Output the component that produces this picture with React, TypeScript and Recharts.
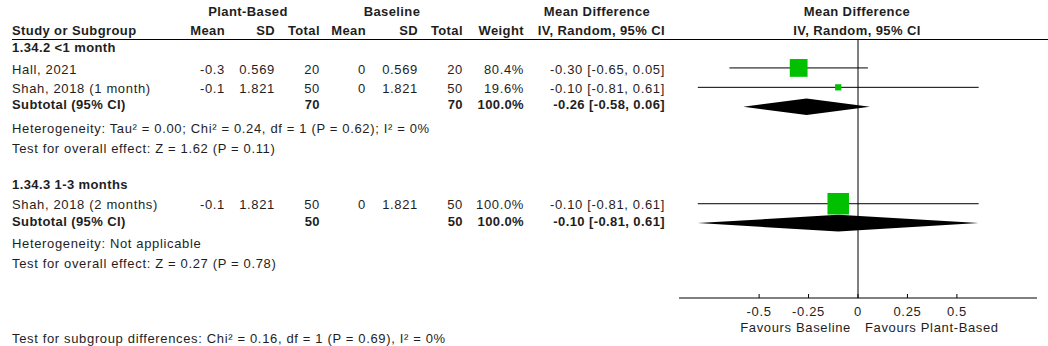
import React from "react";
import { ComposedChart, Scatter, ErrorBar, Area, XAxis, YAxis, ReferenceLine } from "recharts";

// ---------- data ----------
const studyNames = ["Hall, 2021", "Shah, 2018 (1 month)", "Shah, 2018 (2 months)"];
const studyRows = [1, 2, 8];
const pbMean = [-0.3, -0.1, -0.1];
const pbSD = [0.569, 1.821, 1.821];
const pbTotal = [20, 50, 50];
const blMean = [0, 0, 0];
const blSD = [0.569, 1.821, 1.821];
const blTotal = [20, 50, 50];
const weights = [80.4, 19.6, 100.0];
const md = [-0.3, -0.1, -0.1];
const ciLow = [-0.65, -0.81, -0.81];
const ciHigh = [0.05, 0.61, 0.61];

const subgroupNames = ["1.34.2 <1 month", "1.34.3 1-3 months"];
const subRows = [3, 9];
const subPbTotal = [70, 50];
const subBlTotal = [70, 50];
const subWeight = [100.0, 100.0];
const subMd = [-0.26, -0.1];
const subLow = [-0.58, -0.81];
const subHigh = [0.06, 0.61];
const heterogeneity = [
  "Heterogeneity: Tau² = 0.00; Chi² = 0.24, df = 1 (P = 0.62); I² = 0%",
  "Heterogeneity: Not applicable",
];
const overallEffect = [
  "Test for overall effect: Z = 1.62 (P = 0.11)",
  "Test for overall effect: Z = 0.27 (P = 0.78)",
];
const subgroupDiff = "Test for subgroup differences: Chi² = 0.16, df = 1 (P = 0.69), I² = 0%";

const xTicks = [-0.5, -0.25, 0, 0.25, 0.5];
const xTickLabels = ["-0.5", "-0.25", "0", "0.25", "0.5"];
const favoursLeft = "Favours Baseline";
const favoursRight = "Favours Plant-Based";

// ---------- derived ----------
const studyPoints = studyNames.map((n, i) => ({
  x: md[i],
  y: studyRows[i],
  err: [md[i] - ciLow[i], ciHigh[i] - md[i]],
  w: weights[i],
}));
const DIAMOND_HALF = 0.43;
const diamondData = (i: number) => [
  { x: subLow[i], band: [subRows[i], subRows[i]] },
  { x: subMd[i], band: [subRows[i] - DIAMOND_HALF, subRows[i] + DIAMOND_HALF] },
  { x: subHigh[i], band: [subRows[i], subRows[i]] },
];

const FONT = "'Liberation Sans', Arial, sans-serif";
const FS = 13;
const LS_BOLD = 0.4;
const LS_REG = 0.65;
const TXT = "#1e1e1e";

const SquareShape = (props: any) => {
  const { cx, cy, payload } = props;
  const s = 2.5 + 0.19 * payload.w;
  return <rect x={cx - s / 2} y={cy - s / 2} width={s} height={s} fill="#00C000" />;
};

const TickLabel = (props: any) => {
  const { x, y, payload, index } = props;
  return (
    <text x={x} y={y} textAnchor="middle" fontFamily={FONT} fontSize={FS} letterSpacing={LS_REG} fill={TXT}>
      {xTickLabels[index] ?? String(payload.value)}
    </text>
  );
};

const colRight = [225, 275, 320, 366, 418, 463, 524, 665];
const studyTextY = [69, 88, 204];
const groupHeaderY = [47, 184];
const subTextY = [104, 221];
const hetY = [128, 243];
const effY = [148, 263];
const BO = 4.6; // baseline offset from text centre

function T(props: any) {
  const { x, y, anchor = "start", bold = false, children } = props;
  return (
    <text
      x={x}
      y={y + BO}
      textAnchor={anchor}
      fontFamily={FONT}
      fontSize={FS}
      letterSpacing={bold ? LS_BOLD : LS_REG}
      fontWeight={bold ? 700 : 400}
      fill={TXT}
    >
      {children}
    </text>
  );
}

const fmtCI = (m: number, l: number, h: number) => `${m.toFixed(2)} [${l.toFixed(2)}, ${h.toFixed(2)}]`;

function Table() {
  const head2 = ["Mean", "SD", "Total", "Mean", "SD", "Total", "Weight", "IV, Random, 95% CI"];
  const studyIdxByGroup = [[0, 1], [2]];
  return (
    <svg width={1048} height={346} style={{ position: "absolute", left: 0, top: 0, pointerEvents: "none" }}>
      <T x={248} y={11} anchor="middle" bold>Plant-Based</T>
      <T x={392} y={11} anchor="middle" bold>Baseline</T>
      <T x={597} y={11} anchor="middle" bold>Mean Difference</T>
      <T x={857} y={11} anchor="middle" bold>Mean Difference</T>
      <T x={12} y={30} bold>Study or Subgroup</T>
      {head2.map((h, i) => (
        <T key={i} x={colRight[i]} y={30} anchor="end" bold>{h}</T>
      ))}
      <T x={857} y={30} anchor="middle" bold>IV, Random, 95% CI</T>
      <line x1={12} x2={1048} y1={39.5} y2={39.5} stroke="#000" strokeWidth={1} />
      {subgroupNames.map((g, gi) => (
        <g key={gi}>
          <T x={12} y={groupHeaderY[gi]} bold>{g}</T>
          {studyIdxByGroup[gi].map((si) => (
            <g key={si}>
              <T x={12} y={studyTextY[si]}>{studyNames[si]}</T>
              <T x={colRight[0]} y={studyTextY[si]} anchor="end">{String(pbMean[si])}</T>
              <T x={colRight[1]} y={studyTextY[si]} anchor="end">{String(pbSD[si])}</T>
              <T x={colRight[2]} y={studyTextY[si]} anchor="end">{String(pbTotal[si])}</T>
              <T x={colRight[3]} y={studyTextY[si]} anchor="end">{String(blMean[si])}</T>
              <T x={colRight[4]} y={studyTextY[si]} anchor="end">{String(blSD[si])}</T>
              <T x={colRight[5]} y={studyTextY[si]} anchor="end">{String(blTotal[si])}</T>
              <T x={colRight[6]} y={studyTextY[si]} anchor="end">{weights[si].toFixed(1) + "%"}</T>
              <T x={colRight[7]} y={studyTextY[si]} anchor="end">{fmtCI(md[si], ciLow[si], ciHigh[si])}</T>
            </g>
          ))}
          <T x={12} y={subTextY[gi]} bold>Subtotal (95% CI)</T>
          <T x={colRight[2]} y={subTextY[gi]} anchor="end" bold>{String(subPbTotal[gi])}</T>
          <T x={colRight[5]} y={subTextY[gi]} anchor="end" bold>{String(subBlTotal[gi])}</T>
          <T x={colRight[6]} y={subTextY[gi]} anchor="end" bold>{subWeight[gi].toFixed(1) + "%"}</T>
          <T x={colRight[7]} y={subTextY[gi]} anchor="end" bold>{fmtCI(subMd[gi], subLow[gi], subHigh[gi])}</T>
          <T x={12} y={hetY[gi]}>{heterogeneity[gi]}</T>
          <T x={12} y={effY[gi]}>{overallEffect[gi]}</T>
        </g>
      ))}
      <T x={12} y={338}>{subgroupDiff}</T>
      <T x={851} y={327} anchor="end">{favoursLeft}</T>
      <T x={865} y={327} anchor="start">{favoursRight}</T>
    </svg>
  );
}

export default function App() {
  return (
    <div style={{ position: "absolute", left: 0, top: 0, width: 1048, height: 346, background: "#fff", overflow: "hidden" }}>
      <ComposedChart
        width={1048}
        height={346}
        margin={{ top: 40, right: 11, bottom: 8, left: 679 }}
      >
        <XAxis
          type="number"
          dataKey="x"
          domain={[-0.905, 0.905]}
          allowDataOverflow
          ticks={xTicks}
          height={40}
          tickSize={-4}
          tickMargin={22}
          tick={<TickLabel />}
          axisLine={{ stroke: "#000" }}
          tickLine={{ stroke: "#000" }}
          interval={0}
        />
        <YAxis type="number" dataKey="y" domain={[-0.44, 12.86]} reversed hide allowDataOverflow />
        <ReferenceLine x={0} stroke="#000" strokeWidth={1} />
        {subgroupNames.map((g, i) => (
          <Area
            key={g}
            data={diamondData(i)}
            dataKey="band"
            type="linear"
            stroke="none"
            fill="#000"
            fillOpacity={1}
            isAnimationActive={false}
            dot={false}
            activeDot={false}
          />
        ))}
        <Scatter data={studyPoints} shape={<SquareShape />} isAnimationActive={false}>
          <ErrorBar dataKey="err" direction="x" width={0} stroke="#000" strokeWidth={1} isAnimationActive={false} />
        </Scatter>
      </ComposedChart>
      <Table />
    </div>
  );
}
